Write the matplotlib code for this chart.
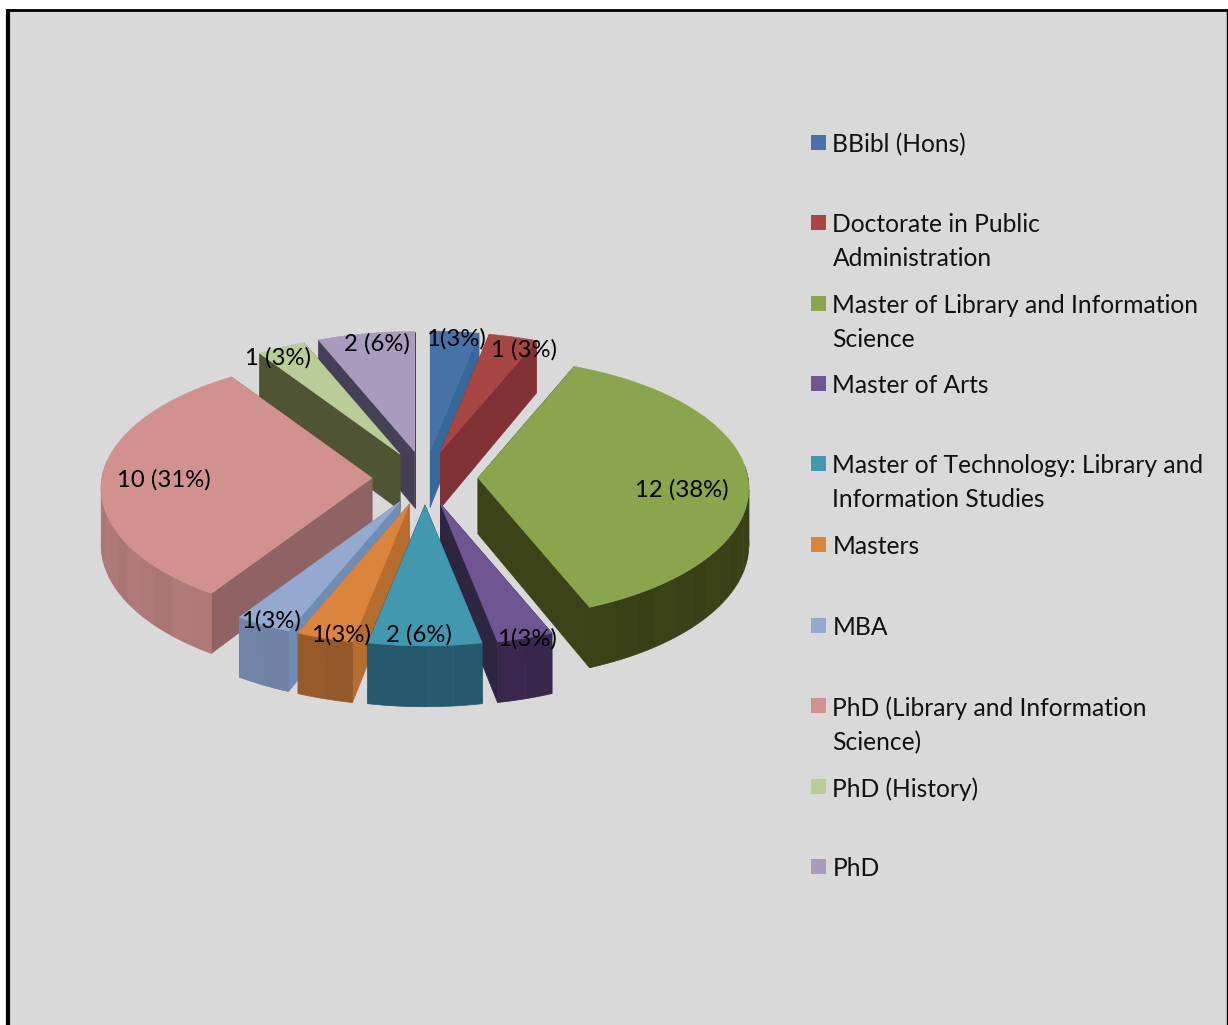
import numpy as np
import matplotlib
matplotlib.use('Agg')
import matplotlib.pyplot as plt
from matplotlib.patches import Polygon, Rectangle

categories=['BBibl (Hons)','Doctorate in Public\nAdministration','Master of Library and Information\nScience',
            'Master of Arts','Master of Technology: Library and\nInformation Studies','Masters','MBA',
            'PhD (Library and Information\nScience)','PhD (History)','PhD']
values=[1,1,12,1,2,1,1,10,1,2]
slice_labels=['1(3%)','1 (3%)','12 (38%)','1(3%)','2 (6%)','1(3%)','1(3%)','10 (31%)','1 (3%)','2 (6%)']

top_colors=['#4672a8','#a84644','#8aa54e','#6f5592','#4198af','#db843d','#93a9cf','#d1928f','#bacd96','#a99bbd']
cut_colors=['#37689a','#7f3133','#3c4319','#2e2540','#2d2f40','#b56d30','#6f8cb5','#8f6363','#4f5434','#454058']
side_colors=['#37689a','#7f3133','#3a4118','#38264c','#25596d','#94592a','#6e82a4','#ad7876','#4f5434','#454058']

label_xy=[(456,339),(524,350),(682,490),(527,639),(419,635),(341,635),(271,621),(164,480),(278,358),(377,344)]
legend_y=[142,222,303,383,463,544,625,705,786,866]

# pie geometry in pixels
cx,cy=425,478
rx,ry=270,129.6
persp=0.08
depth=56
ex,ey=53,27

def project(theta):
    u=np.sin(theta)
    v=np.cos(theta)
    s=1/(1+persp*v)
    return rx*u*s,-ry*v*s

def wall_drop(theta):
    return depth/(1+persp*np.cos(theta))

fig=plt.figure(figsize=(12.28,10.25),dpi=100,facecolor='white')
ax=fig.add_axes([0,0,1,1])
ax.set_xlim(0,1228)
ax.set_ylim(1025,0)
ax.axis('off')
plt.rcParams['font.family']=['Lato','DejaVu Sans']

ax.add_patch(Rectangle((8,10),1218.5,1020,facecolor='#d9d9d9',edgecolor='none',zorder=0))
ax.plot([8,8],[9,1025],color='black',lw=3.0,zorder=1,solid_capstyle='butt')
ax.plot([6,1228],[10,10],color='black',lw=2.0,zorder=1,solid_capstyle='butt')
ax.plot([1226.5,1226.5],[9,1025],color='black',lw=1.0,zorder=1,solid_capstyle='butt')

vals=np.array(values,dtype=float)
edges=np.concatenate([[0],np.cumsum(vals)])/vals.sum()*2*np.pi
mids=(edges[:-1]+edges[1:])/2

# back slices first, then towards the viewer
order=np.argsort(-np.cos(mids))
z=2
for i in order:
    t0,t1=edges[i],edges[i+1]
    ox=cx+ex*np.sin(mids[i])
    oy=cy-ey*np.cos(mids[i])
    apex=np.array([ox,oy])
    ts=np.linspace(t0,t1,80)
    arc=np.array([project(t) for t in ts])+apex
    for t,p in ((t0,arc[0]),(t1,arc[-1])):
        ax.add_patch(Polygon([apex,p,p+[0,wall_drop(t)],apex+[0,depth]],closed=True,facecolor=cut_colors[i],edgecolor=cut_colors[i],lw=0.5,zorder=z))
    z+=1
    # outer wall in narrow bands, only the part that faces the viewer
    nb=max(int((t1-t0)/0.09),2)
    tb=np.linspace(t0,t1,nb+1)
    base=np.array(matplotlib.colors.to_rgb(side_colors[i]))
    for b in range(nb):
        tm=(tb[b]+tb[b+1])/2
        if np.cos(tm)>0.1:
            continue
        tseg=np.linspace(tb[b],tb[b+1],6)
        seg=np.array([project(t) for t in tseg])+apex
        low=seg+np.column_stack([np.zeros(6),[wall_drop(t) for t in tseg]])
        col=np.clip(base*(1+0.018*np.sin(b*2.1)),0,1)
        ax.add_patch(Polygon(np.vstack([seg,low[::-1]]),closed=True,facecolor=col,edgecolor=col,lw=0.5,zorder=z))
    z+=1
    ax.add_patch(Polygon(np.vstack([apex,arc]),closed=True,facecolor=top_colors[i],edgecolor=top_colors[i],lw=0.4,zorder=z))
    z+=1

for lab,(x,y) in zip(slice_labels,label_xy):
    ax.text(x,y,lab,ha='center',va='center',fontsize=17.2,color='black',zorder=200)

for cat,col,y in zip(categories,top_colors,legend_y):
    ax.add_patch(Rectangle((811,y-7.5),15,15,facecolor=col,edgecolor='none',zorder=5))
    ax.text(832.5,y-9,cat,ha='left',va='top',fontsize=17.7,color='#111111',linespacing=1.6,zorder=5)

fig.savefig('out.png',dpi=100)
